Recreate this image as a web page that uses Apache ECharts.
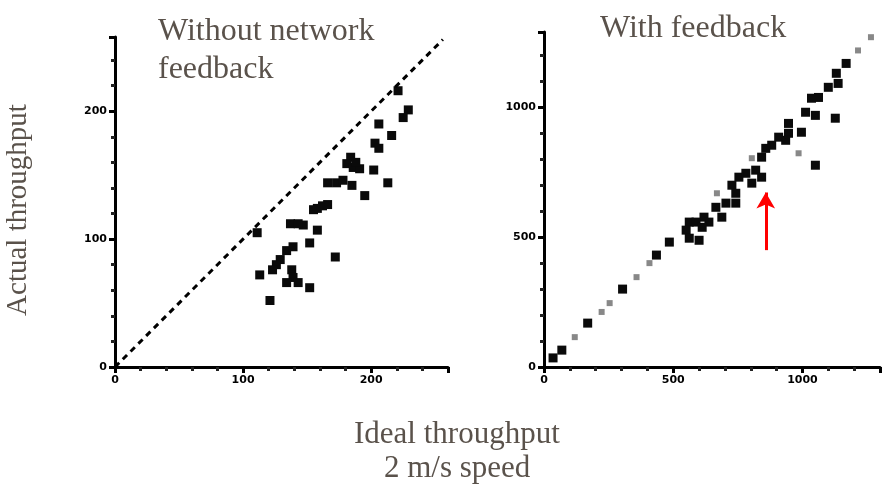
<!DOCTYPE html>
<html>
<head>
<meta charset="utf-8">
<script src="https://cdn.jsdelivr.net/npm/echarts@6/dist/echarts.min.js"></script>
<style>
  html, body { margin: 0; padding: 0; background: #fff; }
  #main { width: 883px; height: 487px; }
</style>
</head>
<body>
<div id="main"></div>
<script>
var myChart = echarts.init(document.getElementById('main'));

// left panel: without network feedback
var noFeedbackPts = [
    [221, 216], [229, 201], [225, 195], [206, 190], [216, 181], [203, 175], [206, 171],
    [184, 164], [181, 159], [186, 156], [191, 155], [202, 154], [166, 144], [173, 144],
    [185, 142], [213, 144], [195, 134], [158, 124], [166, 127], [155, 123], [137, 112],
    [147, 111], [158, 107], [111, 105], [152, 97], [134, 91], [139, 94], [172, 86],
    [129, 84], [126, 80], [113, 72], [123, 76], [138, 76], [139, 70], [134, 66],
    [143, 66], [152, 62], [121, 52], [178, 146], [188, 160], [162, 126], [143, 112]
];
var idealLeft = [[0, 0], [256, 256]];

// right panel: with feedback
var feedbackPts = [
    [1169, 1169], [1131, 1131], [1138, 1092], [1100, 1077], [1062, 1038], [1035, 1035],
    [1012, 981], [1050, 969], [1127, 958], [946, 938], [996, 904], [946, 900], [908, 885],
    [935, 873], [881, 854], [858, 842], [842, 808], [1050, 777], [819, 758], [781, 746],
    [754, 731], [842, 731], [804, 708], [727, 700], [742, 669], [704, 631], [665, 615],
    [742, 631], [688, 577], [619, 577], [638, 558], [562, 558], [588, 558], [550, 527],
    [612, 538], [562, 496], [600, 488], [485, 481], [435, 431], [304, 300], [169, 169],
    [69, 65], [35, 35]
];
var feedbackFaint = [
    [1215, 1219], [1265, 1270], [985, 823], [804, 804], [669, 669], [408, 400],
    [358, 346], [254, 246], [223, 212], [119, 115]
];
var arrowRight = [[858, 450], [858, 672]];

var xTicksLeft = [0, 100, 200];
var xTicksRight = [0, 500, 1000];

var serif = '"Liberation Serif", "DejaVu Serif", serif';
var textCol = '#5a524b';

function axisBase(max, interval, ticks) {
    return {
        type: 'value',
        min: 0,
        max: max,
        interval: interval,
        splitLine: { show: false },
        axisLine: { show: true, onZero: false, lineStyle: { color: '#000', width: 3 } },
        axisTick: { show: true, length: 6, lineStyle: { color: '#000', width: 3 } },
        minorTick: { show: true, splitNumber: 5, length: 4, lineStyle: { color: '#222', width: 3 } },
        axisLabel: {
            color: '#000', fontWeight: 'bold', fontSize: 11, fontFamily: 'DejaVu Sans',
            formatter: function (v) { return ticks.indexOf(v) >= 0 ? String(v) : ''; }
        }
    };
}

option = {
    backgroundColor: '#fff',
    animation: false,
    title: [
        { text: 'Without network\nfeedback', left: 153, top: 8,
          textStyle: { fontFamily: serif, fontWeight: 'normal', fontSize: 32, color: textCol, lineHeight: 38 } },
        { text: 'With feedback', left: 595, top: 8,
          textStyle: { fontFamily: serif, fontWeight: 'normal', fontSize: 32, color: textCol } },
        { text: 'Ideal throughput', left: 349, top: 414,
          textStyle: { fontFamily: serif, fontWeight: 'normal', fontSize: 31, color: textCol } },
        { text: '2 m/s speed', left: 379, top: 448,
          textStyle: { fontFamily: serif, fontWeight: 'normal', fontSize: 31, color: textCol } }
    ],
    graphic: [{
        type: 'text', rotation: Math.PI / 2, x: 18, y: 210,
        style: {
            text: 'Actual throughput', fill: textCol, font: '29px ' + serif,
            textAlign: 'center', textVerticalAlign: 'middle'
        }
    }],
    grid: [
        { left: 115, top: 37, width: 333, height: 330 },
        { left: 544, top: 32, width: 339, height: 335 }
    ],
    xAxis: [
        Object.assign(axisBase(260, 100, xTicksLeft), { gridIndex: 0 }),
        Object.assign(axisBase(1300, 500, xTicksRight), { gridIndex: 1 })
    ],
    yAxis: [
        Object.assign(axisBase(258, 100, xTicksLeft), { gridIndex: 0 }),
        Object.assign(axisBase(1290, 500, xTicksRight), { gridIndex: 1 })
    ],
    series: [
        {
            type: 'line', xAxisIndex: 0, yAxisIndex: 0, data: idealLeft, symbol: 'none',
            lineStyle: { color: '#000', width: 3, type: [6, 5] }
        },
        {
            type: 'scatter', xAxisIndex: 0, yAxisIndex: 0, data: noFeedbackPts,
            symbol: 'rect', symbolSize: 9, itemStyle: { color: '#0a0a0a', opacity: 1 }
        },
        {
            type: 'scatter', xAxisIndex: 1, yAxisIndex: 1, data: feedbackFaint,
            symbol: 'rect', symbolSize: 6, itemStyle: { color: '#888', opacity: 1 }
        },
        {
            type: 'scatter', xAxisIndex: 1, yAxisIndex: 1, data: feedbackPts,
            symbol: 'rect', symbolSize: 9, itemStyle: { color: '#0a0a0a', opacity: 1 },
            markLine: {
                silent: true, symbol: ['none', 'arrow'], symbolSize: [14, 16],
                label: { show: false },
                lineStyle: { color: '#ff0000', width: 3, type: 'solid' },
                data: [[{ coord: arrowRight[0] }, { coord: arrowRight[1] }]]
            }
        }
    ]
};

myChart.setOption(option);
</script>
</body>
</html>
